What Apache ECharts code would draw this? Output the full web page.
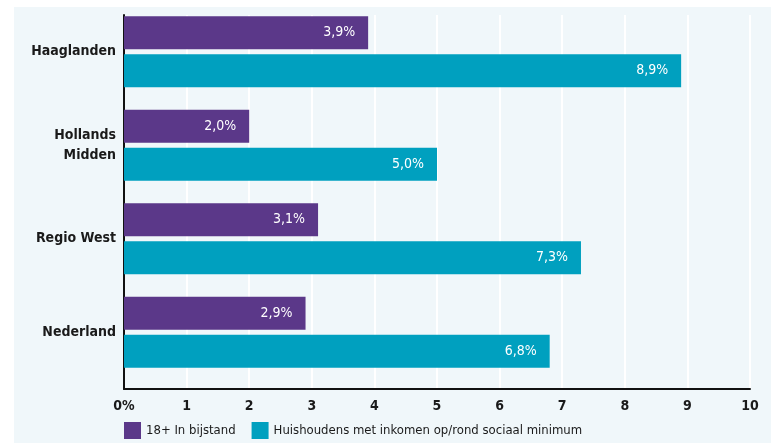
<!DOCTYPE html>
<html>
<head>
<meta charset="utf-8">
<script src="https://cdn.jsdelivr.net/npm/echarts@6/dist/echarts.min.js"></script>
<style>
  html, body { margin: 0; padding: 0; background: #ffffff; }
  #chart { width: 771px; height: 443px; }
</style>
</head>
<body>
<div id="chart"></div>
<script>
// Regio's en percentages
const regios = ['Haaglanden', 'Hollands\nMidden', 'Regio West', 'Nederland'];
const bijstand = [3.9, 2.0, 3.1, 2.9];
const sociaalMinimum = [8.9, 5.0, 7.3, 6.8];
const seriesNames = ['18+ In bijstand', 'Huishoudens met inkomen op/rond sociaal minimum'];

const FONT = '"DejaVu Sans Condensed", "DejaVu Sans", sans-serif';
const PAARS = '#5b3889';
const TEAL = '#00a0bf';

const fmt = v => v.toFixed(1).replace('.', ',') + '%';

const chart = echarts.init(document.getElementById('chart'), null, { renderer: 'canvas' });

chart.setOption({
  backgroundColor: '#ffffff',
  animation: false,
  textStyle: { fontFamily: FONT },
  graphic: [{
    type: 'rect', left: 14, top: 7, z: -10,
    shape: { width: 757, height: 436 },
    style: { fill: '#f0f7fa' }
  }],
  grid: [
    { left: 124, right: 21, top: 15, height: 374 },
    { left: 124, right: 21, top: 5, height: 374 }
  ],
  xAxis: [
    {
      gridIndex: 0, type: 'value', min: 0, max: 10, interval: 1,
      axisLine: { show: true, lineStyle: { color: '#111', width: 2 } },
      axisTick: { show: false },
      splitLine: { show: true, lineStyle: { color: '#ffffff', width: 2 } },
      axisLabel: {
        margin: 10, color: '#1a1a1a', fontSize: 14, fontWeight: 'bold', fontFamily: FONT,
        formatter: v => (v === 0 ? '0%' : String(v))
      }
    },
    { gridIndex: 1, type: 'value', min: 0, max: 10, show: false }
  ],
  yAxis: [
    {
      gridIndex: 0, type: 'category', inverse: true, data: regios,
      axisLine: { show: true, lineStyle: { color: '#111', width: 2 } },
      axisTick: { show: false }, axisLabel: { show: false }, splitLine: { show: false }
    },
    {
      gridIndex: 1, type: 'category', inverse: true, data: regios,
      axisLine: { show: false }, axisTick: { show: false }, splitLine: { show: false },
      axisLabel: {
        margin: 8, color: '#1a1a1a', fontSize: 14, fontWeight: 'bold', fontFamily: FONT,
        lineHeight: 20, align: 'right'
      }
    }
  ],
  legend: {
    left: 124, top: 422, padding: 0, itemWidth: 17, itemHeight: 17, itemGap: 16,
    icon: 'rect',
    textStyle: { color: '#1a1a1a', fontSize: 13, fontWeight: 500, fontFamily: FONT },
    data: seriesNames
  },
  series: [
    {
      name: seriesNames[0], type: 'bar', xAxisIndex: 1, yAxisIndex: 1,
      data: bijstand, barWidth: 33, barGap: '15%',
      itemStyle: { color: PAARS },
      label: {
        show: true, position: 'insideRight', distance: 13,
        color: '#ffffff', fontSize: 14, fontFamily: FONT,
        formatter: p => fmt(p.value)
      }
    },
    {
      name: seriesNames[1], type: 'bar', xAxisIndex: 1, yAxisIndex: 1,
      data: sociaalMinimum, barWidth: 33, barGap: '15%',
      itemStyle: { color: TEAL },
      label: {
        show: true, position: 'insideRight', distance: 13,
        color: '#ffffff', fontSize: 14, fontFamily: FONT,
        formatter: p => fmt(p.value)
      }
    }
  ]
});
</script>
</body>
</html>
